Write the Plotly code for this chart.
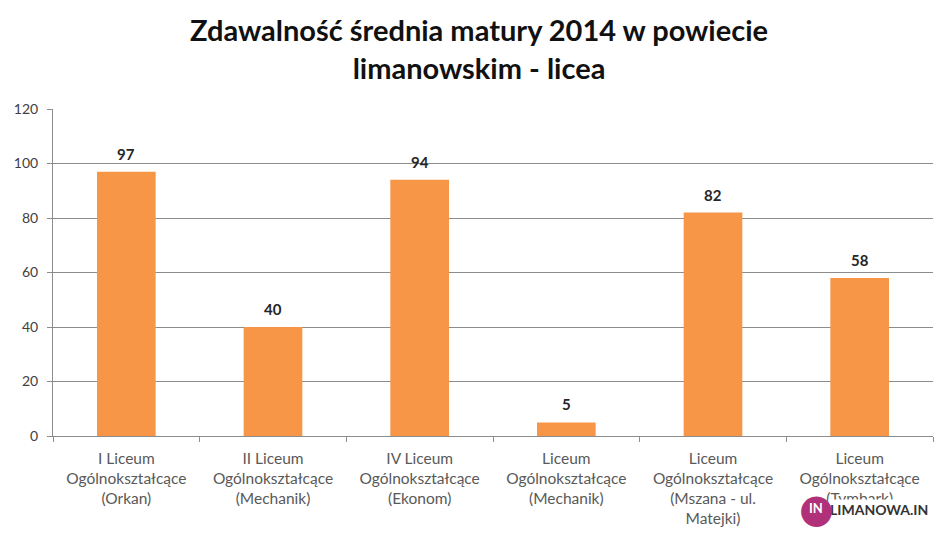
import plotly.graph_objects as go

categories = [
    "I Liceum<br>Ogólnokształcące<br>(Orkan)",
    "II Liceum<br>Ogólnokształcące<br>(Mechanik)",
    "IV Liceum<br>Ogólnokształcące<br>(Ekonom)",
    "Liceum<br>Ogólnokształcące<br>(Mechanik)",
    "Liceum<br>Ogólnokształcące<br>(Mszana - ul.<br>Matejki)",
    "Liceum<br>Ogólnokształcące<br>(Tymbark)",
]
values = [97, 40, 94, 5, 82, 58]
y_ticks = [0, 20, 40, 60, 80, 100, 120]

FONT = "Lato"
W, H = 942, 532
L, R, T, B = 45, 17, 101, 104
PW, PH = W - L - R, H - T - B


def px(x):
    return (x - 8 - L) / PW


def py(y):
    return (H - B - (y - 8)) / PH


fig = go.Figure(go.Bar(
    x=categories, y=values,
    marker=dict(color="#F79646", line=dict(width=0)),
    cliponaxis=False,
))
for c, v in zip(categories, values):
    fig.add_annotation(x=c, y=v, text=f"<b>{v}</b>", showarrow=False, yanchor="bottom", yshift=7,
                       font=dict(family=FONT, size=15, color="#262626"))

fig.update_layout(
    width=W, height=H,
    margin=dict(l=L, r=R, t=T, b=B),
    paper_bgcolor="white", plot_bgcolor="white",
    bargap=0.6,
    showlegend=False,
    title=dict(
        text="<b>Zdawalność średnia matury 2014 w powiecie<br>limanowskim - licea</b>",
        x=0.5, xanchor="center", yref="container", y=1 - 33 / H, yanchor="middle",
        font=dict(family=FONT, size=29, color="#111111"),
    ),
    font=dict(family=FONT),
)
fig.update_yaxes(
    range=[0, 120], tickvals=y_ticks, showgrid=True, gridcolor="#8c8c8c", gridwidth=1,
    showline=True, linecolor="#8c8c8c", ticks="outside", ticklen=5, tickcolor="#8c8c8c",
    tickfont=dict(family=FONT, size=14, color="#404040"), zeroline=False, automargin=False,
    ticklabelstandoff=6,
)
fig.update_xaxes(
    showline=True, linecolor="#8c8c8c", ticks="outside", ticklen=5, tickcolor="#8c8c8c",
    tickson="boundaries", tickfont=dict(family=FONT, size=15.5, color="#595959"),
    tickangle=0, automargin=False, ticklabelstandoff=8,
)
# watermark
fig.add_annotation(xref="paper", yref="paper", x=px(879), y=py(509), xanchor="center", yanchor="middle",
                   text="<b>LIMANOWA.IN</b>", showarrow=False, bgcolor="white",
                   font=dict(family=FONT, size=14, color="#333333"))
fig.add_annotation(xref="paper", yref="paper", x=px(816), y=py(508), xanchor="center", yanchor="middle",
                   text="●", showarrow=False,
                   font=dict(family="DejaVu Sans", size=40, color="#b0307a"))
fig.add_annotation(xref="paper", yref="paper", x=px(816), y=py(508), xanchor="center", yanchor="middle",
                   text="<b>IN</b>", showarrow=False, font=dict(family=FONT, size=13, color="white"))

fig.write_html("out.html")
